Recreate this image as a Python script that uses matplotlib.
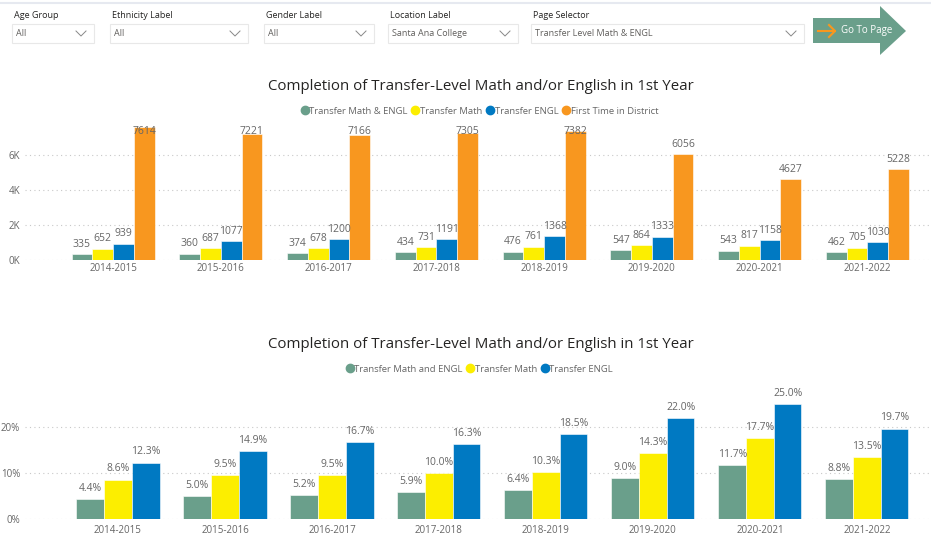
import numpy as np
import matplotlib
matplotlib.use("Agg")
import matplotlib.pyplot as plt
from matplotlib.patches import Rectangle, Polygon
from matplotlib.lines import Line2D

plt.rcParams['font.family'] = ['Open Sans', 'DejaVu Sans']

# DATA

years = ['2014-2015', '2015-2016', '2016-2017', '2017-2018',
         '2018-2019', '2019-2020', '2020-2021', '2021-2022']

cnt_math_engl = [335, 360, 374, 434, 476, 547, 543, 462]
cnt_math = [652, 687, 678, 731, 761, 864, 817, 705]
cnt_engl = [939, 1077, 1200, 1191, 1368, 1333, 1158, 1030]
cnt_first_time = [7614, 7221, 7166, 7305, 7382, 6056, 4627, 5228]

pct_math_engl = [4.4, 5.0, 5.2, 5.9, 6.4, 9.0, 11.7, 8.8]
pct_math = [8.6, 9.5, 9.5, 10.0, 10.3, 14.3, 17.7, 13.5]
pct_engl = [12.3, 14.9, 16.7, 16.3, 18.5, 22.0, 25.0, 19.7]

top_labels = ['Transfer Math & ENGL', 'Transfer Math', 'Transfer ENGL', 'First Time in District']
bot_labels = ['Transfer Math and ENGL', 'Transfer Math', 'Transfer ENGL']

slicer_titles = ['Age Group', 'Ethnicity Label', 'Gender Label', 'Location Label', 'Page Selector']
slicer_values = ['All', 'All', 'All', 'Santa Ana College', 'Transfer Level Math & ENGL']

# STYLE

c_green = '#6a9f8b'
c_yellow = '#fcee00'
c_blue = '#0079c2'
c_orange = '#f8971f'
c_text = '#666666'
c_title = '#252423'

W, H = 931, 537
fig = plt.figure(figsize=(W / 100, H / 100), dpi=100)
fig.patch.set_facecolor('white')


def fx(px):
    return px / W


def fy(py):
    return 1 - py / H


# top border line
fig.add_artist(Line2D([0, fx(930)], [fy(3), fy(3)], color='#e6e9f0', lw=1.5))

# SLICERS
slicer_boxes = [(12, 94), (110, 248), (264, 374), (388, 518), (531, 804)]
for (x0, x1), t, v in zip(slicer_boxes, slicer_titles, slicer_values):
    fig.text(fx(x0 + 2), fy(15), t, fontsize=6.5, color='#252423', va='center', ha='left')
    fig.add_artist(Rectangle((fx(x0), fy(43)), fx(x1 - x0), 19 / H,
                             facecolor='white', edgecolor='#e8e8e8', lw=0.8))
    fig.text(fx(x0 + 4), fy(34), v, fontsize=6.5, color='#605e5c', va='center', ha='left')
    # chevron
    cx = x1 - 13
    fig.add_artist(Line2D([fx(cx - 5), fx(cx), fx(cx + 5)], [fy(31), fy(36), fy(31)],
                          color='#888888', lw=0.7))

# GO TO PAGE BUTTON
arrow_pts = [(813, 18), (880, 18), (880, 6), (906, 31), (880, 55), (880, 43), (813, 43)]
fig.add_artist(Polygon([(fx(x), fy(y)) for x, y in arrow_pts], closed=True,
                       facecolor='#6a9f8b', edgecolor='none'))
fig.add_artist(Line2D([fx(818), fx(835)], [fy(31), fy(31)], color=c_orange, lw=1.5))
fig.add_artist(Line2D([fx(829), fx(835), fx(829)], [fy(25), fy(31), fy(37)], color=c_orange, lw=1.5))
fig.text(fx(841), fy(31), 'Go To Page', fontsize=7, color='white', va='center', ha='left')


def style_axes(ax):
    for s in ax.spines.values():
        s.set_visible(False)
    ax.tick_params(axis='both', length=0, labelsize=7, labelcolor=c_text)
    ax.yaxis.grid(True, linestyle=(0, (1, 3)), color='#c8c8c8', lw=0.8)
    ax.set_axisbelow(True)


def legend_handles(colors, labels):
    return [Line2D([0], [0], marker='o', linestyle='none', markersize=6,
                   markerfacecolor=c, markeredgecolor=c, label=l)
            for c, l in zip(colors, labels)]


x = np.arange(len(years))

# TOP CHART (counts)
ax1 = fig.add_axes([fx(25), fy(260), fx(905), 136 / H])
style_axes(ax1)
top_series = [cnt_math_engl, cnt_math, cnt_engl, cnt_first_time]
top_colors = [c_green, c_yellow, c_blue, c_orange]
bw = 0.1925
for k, (vals, col) in enumerate(zip(top_series, top_colors)):
    xs = x + (k - 1.5) * bw
    ax1.bar(xs, vals, width=bw, color=col, edgecolor='white', lw=0.4)
    for xi, v in zip(xs, vals):
        ax1.text(xi, min(v + 560, 7380), f'{v}', ha='center', va='center',
                 fontsize=7.5, color=c_text)
ax1.set_ylim(0, 7800)
ax1.set_xlim(-0.817, 7.58)
ax1.set_yticks([0, 2000, 4000, 6000])
ax1.set_yticklabels(['0K', '2K', '4K', '6K'])
ax1.set_xticks(x)
ax1.set_xticklabels(years)
ax1.tick_params(axis='x', pad=2)

fig.text(fx(481), fy(87), 'Completion of Transfer-Level Math and/or English in 1st Year',
         fontsize=10.8, color=c_title, ha='center', va='center')
fig.legend(handles=legend_handles(top_colors, top_labels), loc='center',
           bbox_to_anchor=(fx(479), fy(111)), ncol=4, frameon=False,
           fontsize=6.8, labelcolor=c_text, handletextpad=0.0, columnspacing=0.3,
           borderaxespad=0, handlelength=1.0)

# BOTTOM CHART (percent)
ax2 = fig.add_axes([fx(25), fy(519), fx(905), 124 / H])
style_axes(ax2)
bot_series = [pct_math_engl, pct_math, pct_engl]
bot_colors = [c_green, c_yellow, c_blue]
bw2 = 0.259
for k, (vals, col) in enumerate(zip(bot_series, bot_colors)):
    xs = x + (k - 1) * bw2
    ax2.bar(xs, vals, width=bw2, color=col, edgecolor='white', lw=0.4)
    for xi, v in zip(xs, vals):
        ax2.text(xi, v + 2.3, f'{v:.1f}%', ha='center', va='center',
                 fontsize=7.5, color=c_text)
ax2.set_ylim(0, 27)
ax2.set_xlim(-0.869, 7.59)
ax2.set_yticks([0, 10, 20])
ax2.set_yticklabels(['0%', '10%', '20%'])
ax2.set_xticks(x)
ax2.set_xticklabels(years)
ax2.tick_params(axis='x', pad=4)

fig.text(fx(481), fy(345), 'Completion of Transfer-Level Math and/or English in 1st Year',
         fontsize=10.8, color=c_title, ha='center', va='center')
fig.legend(handles=legend_handles(bot_colors, bot_labels), loc='center',
           bbox_to_anchor=(fx(479), fy(369)), ncol=3, frameon=False,
           fontsize=6.8, labelcolor=c_text, handletextpad=0.0, columnspacing=0.3,
           borderaxespad=0, handlelength=1.0)

fig.savefig('out.png', dpi=100, facecolor='white')
